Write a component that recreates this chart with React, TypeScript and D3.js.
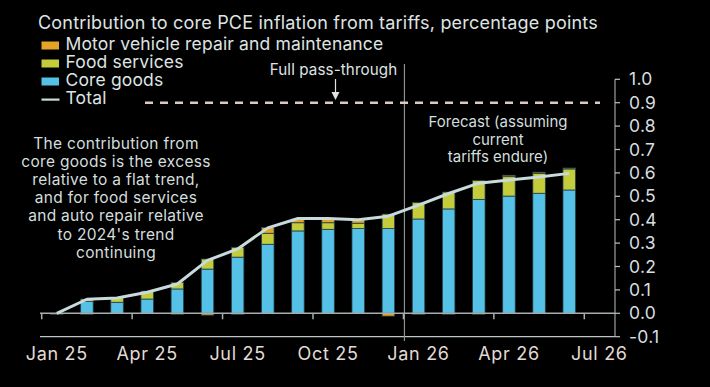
import React from "react";
import * as d3 from "d3";

const months = ["Jan 25","Feb 25","Mar 25","Apr 25","May 25","Jun 25","Jul 25","Aug 25","Sep 25","Oct 25","Nov 25","Dec 25","Jan 26","Feb 26","Mar 26","Apr 26","May 26","Jun 26"];
const coreGoods = [0, 0.05, 0.047, 0.061, 0.104, 0.189, 0.24, 0.295, 0.352, 0.359, 0.362, 0.362, 0.403, 0.446, 0.487, 0.501, 0.513, 0.527];
const foodServices = [0, 0.011, 0.02, 0.034, 0.028, 0.043, 0.042, 0.047, 0.035, 0.028, 0.023, 0.062, 0.07, 0.072, 0.08, 0.083, 0.085, 0.09];
const motorRepair = [-0.003, -0.002, 0, 0, -0.003, -0.008, -0.003, 0.025, 0.016, 0.016, 0.014, -0.012, -0.005, -0.003, -0.003, 0.006, 0.005, 0.004];
const total = [0, 0.06, 0.065, 0.09, 0.125, 0.226, 0.275, 0.365, 0.405, 0.405, 0.4, 0.415, 0.462, 0.512, 0.556, 0.57, 0.582, 0.598];
const yTicks = [-0.1, 0, 0.1, 0.2, 0.3, 0.4, 0.5, 0.6, 0.7, 0.8, 0.9, 1.0];
const xTickLabels = ["Jan 25", "Apr 25", "Jul 25", "Oct 25", "Jan 26", "Apr 26", "Jul 26"];
const xTickIndex = [0, 3, 6, 9, 12, 15, 18];
const fullPassThrough = 0.9;
const noteLines = ["The contribution from", "core goods is the excess", "relative to a flat trend,", "and for food services", "and auto repair relative", "to 2024's trend", "continuing"];
const forecastLines = ["Forecast (assuming", "current", "tariffs endure)"];
const legendItems = [
  { label: "Motor vehicle repair and maintenance", color: "#e3a428", type: "box" },
  { label: "Food services", color: "#c5cc3c", type: "box" },
  { label: "Core goods", color: "#55c1e7", type: "box" },
  { label: "Total", color: "#c8dadc", type: "line" },
];

const COLORS = { motor: "#e3a428", food: "#c5cc3c", core: "#55c1e7", line: "#c8dadc" };
const FONT = "Inter, Roboto, sans-serif";

export default function App() {
  const W = 710, H = 387;
  const x0 = 41.7, x1 = 584.3;
  const y = d3.scaleLinear().domain([-0.1, 1.0]).range([336.7, 79.3]);
  const xm = d3.scaleLinear().domain([0, 18]).range([x0, x1]);
  const band = d3.scaleBand<string>().domain(months).range([x0, x1]).paddingInner(0.585).paddingOuter(0.2925);
  const mid = (i: number) => xm(i + 0.5);
  const axisX = 615;

  const rects: { x: number; y: number; h: number; c: string; k: string }[] = [];
  months.forEach((m, i) => {
    let pos = 0, neg = 0;
    const segs: [number, string][] = [[coreGoods[i], COLORS.core], [foodServices[i], COLORS.food], [motorRepair[i], COLORS.motor]];
    segs.forEach(([v, c], j) => {
      if (v === 0) return;
      let a: number, b: number;
      if (v > 0) { a = pos; b = pos + v; pos = b; } else { a = neg; b = neg + v; neg = b; }
      const yt = y(Math.max(a, b)), yb = y(Math.min(a, b));
      rects.push({ x: band(m)!, y: yt, h: Math.max(yb - yt, 1), c, k: m + j });
    });
  });

  const line = d3.line<number>().x((_, i) => mid(i)).y((d) => y(d));

  return (
    <div style={{ position: "fixed", left: 0, top: 0, width: W, height: H, background: "#000" }}>
      <svg width={W} height={H} style={{ display: "block", background: "#000" }} fontFamily={FONT}>
        <rect x={0} y={0} width={W} height={H} fill="#000" />
        <text x={38} y={29} fill="#dfe3e3" fontSize={18} letterSpacing={0.2}>Contribution to core PCE inflation from tariffs, percentage points</text>
        {legendItems.map((it, i) => (
          <g key={it.label} transform={`translate(41.5, ${45.5 + i * 18})`}>
            {it.type === "box" ? (
              <rect x={0} y={-4} width={17.5} height={8} fill={it.color} />
            ) : (
              <rect x={0} y={-1} width={18} height={2.2} fill={it.color} />
            )}
            <text x={24} y={4} fill="#dfe3e3" fontSize={17.5} letterSpacing={0.15}>{it.label}</text>
          </g>
        ))}

        <line x1={40} x2={axisX} y1={y(-0.1)} y2={y(-0.1)} stroke="#bfc4c4" strokeWidth={1.2} />
        <line x1={axisX} x2={axisX} y1={y(1.0)} y2={y(-0.1)} stroke="#9aa0a0" strokeWidth={1.2} />
        {yTicks.map((t) => (
          <g key={t}>
            <line x1={axisX} x2={axisX + 5} y1={y(t)} y2={y(t)} stroke="#bfc4c4" strokeWidth={1.2} />
            <text x={629} y={y(t) + 6} fill="#d6dfe0" fontSize={17.5} letterSpacing={0.3}>{t.toFixed(1)}</text>
          </g>
        ))}

        <line x1={xm(12) + 1} x2={xm(12) + 1} y1={64} y2={341} stroke="#8a8f90" strokeWidth={1.2} />

        <line x1={145} x2={600} y1={y(fullPassThrough)} y2={y(fullPassThrough)} stroke="#dcc9c2" strokeWidth={2.6} strokeDasharray="8,7" />
        <text x={333.5} y={75} fill="#dfe3e3" fontSize={15.2} letterSpacing={0.1} textAnchor="middle">Full pass-through</text>
        <line x1={335.5} x2={335.5} y1={79} y2={95} stroke="#dfe3e3" strokeWidth={1.2} />
        <path d="M331.5,92 L335.5,100 L339.5,92 Z" fill="#dfe3e3" />

        {rects.map((r) => (
          <rect key={r.k} x={r.x} y={r.y} width={band.bandwidth()} height={r.h} fill={r.c} stroke="#23404a" strokeWidth={0.8} />
        ))}

        <line x1={40} x2={axisX} y1={y(0)} y2={y(0)} stroke="#a8adae" strokeWidth={1.5} />
        {xTickIndex.map((i) => (
          <line key={i} x1={xm(i)} x2={xm(i)} y1={y(0)} y2={y(0) + 6} stroke="#a8adae" strokeWidth={1.5} />
        ))}
        {xTickIndex.map((i, k) => (
          <text key={"l" + i} x={mid(i)} y={359.5} fill="#e2dbd4" fontSize={18} letterSpacing={0.7} textAnchor="middle">{xTickLabels[k]}</text>
        ))}

        <path d={line(total) || ""} fill="none" stroke={COLORS.line} strokeWidth={3} strokeLinejoin="round" />

        {noteLines.map((s, i) => (
          <text key={s} x={116} y={148.5 + i * 18.2} fill="#d3dede" fontSize={15.5} letterSpacing={0.3} textAnchor="middle">{s}</text>
        ))}
        {forecastLines.map((s, i) => (
          <text key={s} x={498} y={127 + i * 17.7} fill="#d3dede" fontSize={15} textAnchor="middle">{s}</text>
        ))}
      </svg>
    </div>
  );
}
